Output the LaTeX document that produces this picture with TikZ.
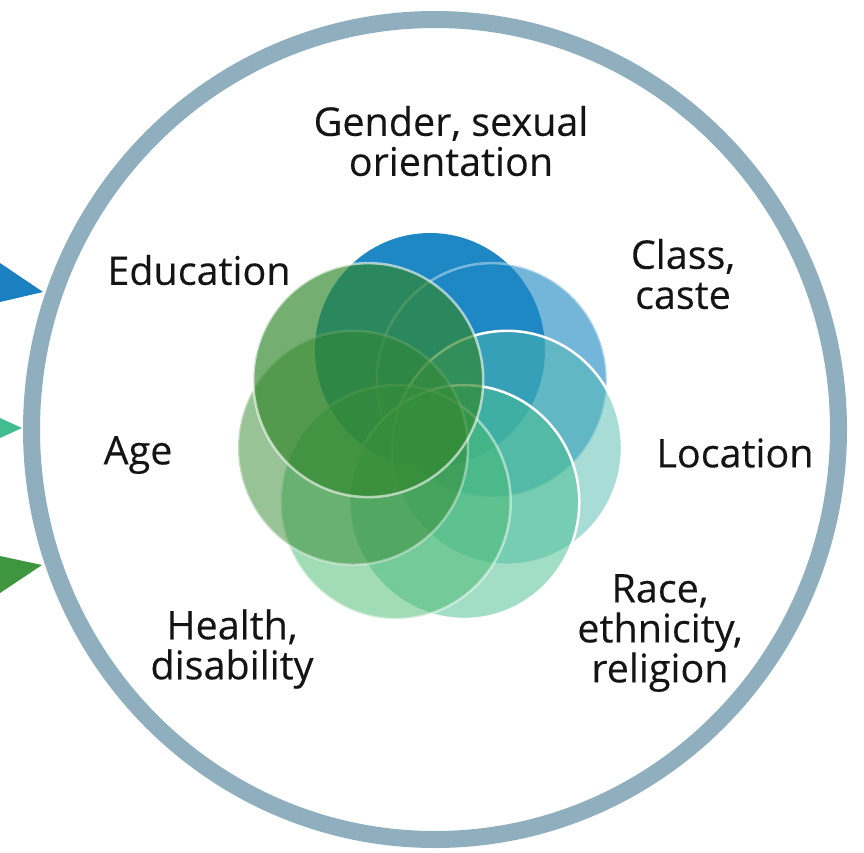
\documentclass[tikz,border=0pt]{standalone}
\usepackage{fontspec}
\setmainfont{Open Sans}[FakeBold=0.25]
\begin{document}
\begin{tikzpicture}[x=1pt,y=-1pt]
  % palette
  \definecolor{ringgrey}{RGB}{143,175,190}
  \definecolor{txt}{RGB}{20,20,20}
  \definecolor{arrowblue}{RGB}{26,128,192}
  \definecolor{arrowteal}{RGB}{64,190,145}
  \definecolor{arrowgreen}{RGB}{62,150,62}
  \definecolor{cGender}{RGB}{30,136,196}
  \definecolor{cClass}{RGB}{30,136,196}
  \definecolor{cLocation}{RGB}{81,185,175}
  \definecolor{cRace}{RGB}{70,190,140}
  \definecolor{cHealth}{RGB}{70,185,110}
  \definecolor{cAge}{RGB}{50,135,45}
  \definecolor{cEducation}{RGB}{50,135,45}
  \tikzset{
    lbl/.style={align=center, text=txt, inner sep=0pt,
      font=\fontsize{39.5}{40}\selectfont},
    petal/.style={draw=white, line width=2.5}
  }
  \useasboundingbox (0,0) rectangle (864,853);

  % chevrons entering from the left edge
  \fill[arrowblue]  (0,263) -- (43,292) -- (0,302) -- cycle;
  \fill[arrowteal]  (0,418) -- (22,428) -- (0,438) -- cycle;
  \fill[arrowgreen] (0,556) -- (42,565) -- (0,593) -- cycle;

  % outer ring
  \draw[ringgrey, line width=17] (435,429.5) ellipse [x radius=403.5, y radius=410];

  % seven overlapping circles
  \foreach \i/\col/\op/\lop in {0/cGender/1/0, 1/cClass/0.62/0.4,
      2/cLocation/0.5/1, 3/cRace/0.5/1, 4/cHealth/0.5/0.5,
      5/cAge/0.5/0.4, 6/cEducation/0.68/0.6}
  {
    \filldraw[petal, fill=\col, fill opacity=\op, draw opacity=\lop]
      ({430+79*cos(90-51.4286*\i)},{430-80*sin(90-51.4286*\i)})
      ellipse [x radius=115, y radius=117];
  }

  % labels
  \node[lbl] (gender)    at (451,141) {Gender, sexual\\orientation};
  \node[lbl] (class)     at (683,274) {Class,\\caste};
  \node[lbl] (location)  at (735,453) {Location};
  \node[lbl] (race)      at (660,633) {Race,\\ethnicity,\\religion};
  \node[lbl] (health)    at (232,649) {Health,\\disability};
  \node[lbl] (age)       at (138,455) {Age};
  \node[lbl] (education) at (199,270) {Education};
\end{tikzpicture}
\end{document}
